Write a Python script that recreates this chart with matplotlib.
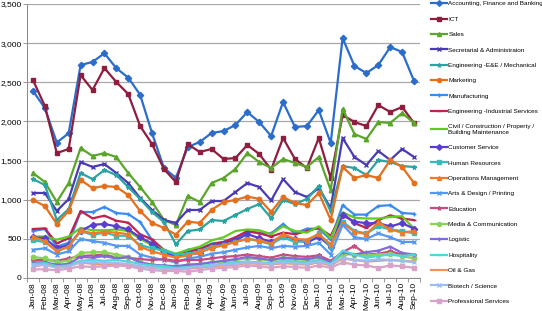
import matplotlib
matplotlib.use("Agg")
import matplotlib.pyplot as plt
from matplotlib.ticker import FuncFormatter, FixedLocator

plt.rcParams['font.family'] = ['Liberation Sans', 'DejaVu Sans']

# Months on the x axis
months = ['Jan-08', 'Feb-08', 'Mar-08', 'Apr-08', 'May-08', 'Jun-08', 'Jul-08', 'Aug-08',
          'Sep-08', 'Oct-08', 'Nov-08', 'Dec-08', 'Jan-09', 'Feb-09', 'Mar-09', 'Apr-09',
          'May-09', 'Jun-09', 'Jul-09', 'Aug-09', 'Sep-09', 'Oct-09', 'Nov-09', 'Dec-09',
          'Jan-10', 'Feb-10', 'Mar-10', 'Apr-10', 'May-10', 'Jun-10', 'Jul-10', 'Aug-10',
          'Sep-10']

# Series values
accounting = [2390, 2170, 1730, 1850, 2720, 2760, 2870, 2680, 2560, 2340, 1850, 1405, 1280,
              1673, 1737, 1852, 1877, 1954, 2120, 1992, 1813, 2248, 1929, 1941, 2145, 1724,
              3065, 2707, 2618, 2720, 2950, 2886, 2516]
ict = [2529, 2197, 1596, 1648, 2593, 2401, 2682, 2503, 2350, 1941, 1711, 1392, 1226, 1711,
       1609, 1648, 1520, 1532, 1699, 1584, 1385, 1788, 1520, 1405, 1788, 1277, 2082, 1992,
       1941, 2209, 2120, 2184, 1980]
sales = [1341, 1226, 971, 1213, 1660, 1558, 1596, 1545, 1341, 1162, 971, 741, 677, 1047, 971,
         1213, 1277, 1392, 1596, 1481, 1405, 1520, 1469, 1418, 1545, 1124, 2158, 1839, 1775,
         1992, 1980, 2107, 1980]
secretarial = [1086, 1086, 856, 1009, 1481, 1418, 1456, 1341, 1213, 1022, 869, 741, 703, 869,
               869, 983, 983, 1098, 1213, 1162, 990, 1264, 1098, 1034, 1149, 894, 1788, 1545,
               1443, 1622, 1507, 1648, 1545]
eng_ee = [1264, 1188, 741, 881, 1341, 1264, 1379, 1315, 1162, 1009, 843, 715, 430, 600, 620,
          741, 728, 805, 881, 945, 766, 996, 945, 1009, 1175, 850, 1430, 1405, 1315, 1507,
          1481, 1430, 1418]
marketing = [996, 920, 690, 856, 1252, 1149, 1175, 1162, 1060, 856, 703, 639, 555, 720, 703,
             869, 971, 996, 1040, 1010, 843, 1034, 958, 932, 1086, 745, 1418, 1277, 1315, 1277,
             1507, 1418, 1213]
manufacturing = [600, 626, 400, 450, 843, 843, 907, 830, 817, 715, 485, 300, 290, 360, 370, 440,
                 460, 490, 590, 580, 570, 690, 570, 630, 630, 490, 930, 810, 810, 920, 930, 830,
                 820]
eng_ind = [626, 634, 443, 507, 856, 762, 796, 732, 707, 558, 494, 358, 290, 330, 370, 430, 460,
           520, 600, 570, 530, 580, 560, 600, 640, 540, 830, 700, 640, 740, 800, 760, 740]
civil = [530, 530, 490, 530, 640, 610, 610, 620, 600, 500, 420, 360, 310, 360, 400, 480, 520,
         600, 620, 610, 560, 660, 600, 580, 660, 510, 840, 770, 760, 760, 780, 790, 630]
customer = [520, 510, 380, 420, 600, 680, 690, 660, 620, 520, 440, 330, 280, 300, 320, 400, 440,
            480, 560, 510, 460, 540, 500, 450, 530, 400, 800, 720, 700, 700, 660, 700, 630]
hr = [480, 460, 350, 400, 600, 550, 580, 540, 540, 420, 380, 350, 300, 310, 340, 400, 420, 460,
      500, 470, 430, 520, 460, 470, 570, 400, 720, 600, 570, 660, 620, 600, 570]
ops = [530, 470, 340, 400, 610, 570, 590, 580, 560, 400, 340, 300, 260, 290, 330, 380, 420, 460,
       500, 480, 440, 560, 500, 490, 560, 430, 700, 590, 560, 710, 620, 580, 600]
arts = [360, 380, 300, 340, 500, 470, 450, 410, 410, 300, 260, 230, 200, 250, 270, 310, 330,
        360, 390, 410, 380, 410, 400, 410, 450, 300, 680, 520, 500, 570, 520, 460, 460]
education = [230, 230, 220, 250, 280, 290, 300, 260, 260, 240, 230, 240, 220, 230, 230, 250,
             270, 280, 300, 280, 260, 300, 280, 270, 290, 220, 330, 410, 300, 310, 340, 300, 290]
media = [270, 250, 200, 220, 320, 330, 330, 300, 270, 200, 170, 150, 140, 160, 170, 200, 210,
         230, 250, 240, 220, 250, 240, 230, 260, 190, 300, 300, 290, 300, 310, 280, 250]
logistic = [200, 200, 170, 180, 270, 260, 280, 250, 270, 200, 170, 160, 150, 170, 180, 200, 220,
            240, 270, 250, 230, 260, 250, 240, 270, 200, 330, 300, 330, 350, 400, 320, 300]
hospitality = [180, 190, 150, 160, 220, 230, 220, 230, 210, 180, 160, 150, 130, 140, 150, 170,
               180, 200, 210, 200, 190, 220, 210, 200, 230, 180, 350, 300, 260, 280, 300, 280, 300]
oil_gas = [150, 170, 140, 150, 200, 180, 170, 180, 170, 150, 130, 120, 110, 120, 130, 150, 160,
           170, 190, 180, 170, 190, 180, 170, 200, 160, 250, 230, 210, 220, 230, 220, 210]
biotech = [160, 170, 130, 150, 200, 200, 200, 190, 180, 150, 130, 120, 110, 130, 140, 160, 170,
           180, 200, 190, 180, 200, 190, 180, 210, 170, 260, 230, 220, 240, 230, 220, 200]
professional = [110, 110, 100, 120, 150, 140, 150, 160, 150, 120, 100, 90, 90, 80, 100, 120, 130,
                140, 160, 150, 130, 150, 140, 130, 160, 130, 200, 170, 160, 130, 160, 150, 130]

# name, values, colour, marker
series = [
    ('Accounting, Finance and Banking', accounting, '#2B6DCB', 'D'),
    ('ICT', ict, '#8E1D3E', 's'),
    ('Sales', sales, '#5AA62A', '^'),
    ('Secretarial & Administraion', secretarial, '#4A3AB4', 'x'),
    ('Engineering -E&E / Mechanical', eng_ee, '#2BA3A3', '*'),
    ('Marketing', marketing, '#E2701F', 'o'),
    ('Manufacturing', manufacturing, '#3B8AEE', '+'),
    ('Engineering -Industrial Services', eng_ind, '#BE2450', '_'),
    ('Civil / Construction / Property /\nBuilding Maintenance', civil, '#62CC1E', ''),
    ('Customer Service', customer, '#5B3ED0', 'D'),
    ('Human Resources', hr, '#35BCBC', 's'),
    ('Operations Management', ops, '#F07A28', '^'),
    ('Arts & Design / Printing', arts, '#5598F2', 'x'),
    ('Education', education, '#C84C82', '*'),
    ('Media & Communication', media, '#88D452', 'o'),
    ('Logistic', logistic, '#7F6CD8', '+'),
    ('Hospitality', hospitality, '#4FD6D8', '_'),
    ('Oil & Gas', oil_gas, '#F59262', ''),
    ('Biotech / Science', biotech, '#9BBDF2', 'x'),
    ('Professional Services', professional, '#D9A2C8', 's'),
]

fig = plt.figure(figsize=(5.42, 3.11), dpi=100)
ax = fig.add_axes([27 / 542, 1 - 278 / 311, 393 / 542, 274 / 311])

x = list(range(len(months)))
for name, vals, col, mk in series:
    ax.plot(x, vals, color=col, marker=mk, markersize=3.2, linewidth=1.6,
            markeredgewidth=1.0, label=name)

ax.set_xlim(-0.5, len(months) - 0.5)
ax.set_ylim(0, 3500)
ax.set_yticks(range(0, 3501, 500))
ax.yaxis.set_major_formatter(FuncFormatter(lambda v, p: f'{int(v):,}'))
ax.set_xticks(x)
ax.set_xticklabels(months, rotation=90, fontsize=6)
ax.tick_params(axis='x', length=0, pad=3)
ax.xaxis.set_minor_locator(FixedLocator([i - 0.5 for i in range(len(months) + 1)]))
ax.tick_params(axis='x', which='minor', length=3, color='#888888', width=0.6)
ax.tick_params(axis='y', labelsize=6, length=3, color='#888888', width=0.6, pad=1)

ax.grid(axis='y', color='#A8A8A8', linewidth=0.9)
ax.set_axisbelow(True)
for side in ['top', 'right']:
    ax.spines[side].set_visible(False)
for side in ['left', 'bottom']:
    ax.spines[side].set_color('#888888')
    ax.spines[side].set_linewidth(0.7)

fig.legend(loc='upper left', bbox_to_anchor=(431 / 542, 1 - 1 / 311), frameon=False,
           fontsize=4.6, handlelength=2.5, handletextpad=0.2, labelspacing=1.55,
           borderpad=0, borderaxespad=0, markerscale=0.9)

fig.savefig('out.png', dpi=100)
